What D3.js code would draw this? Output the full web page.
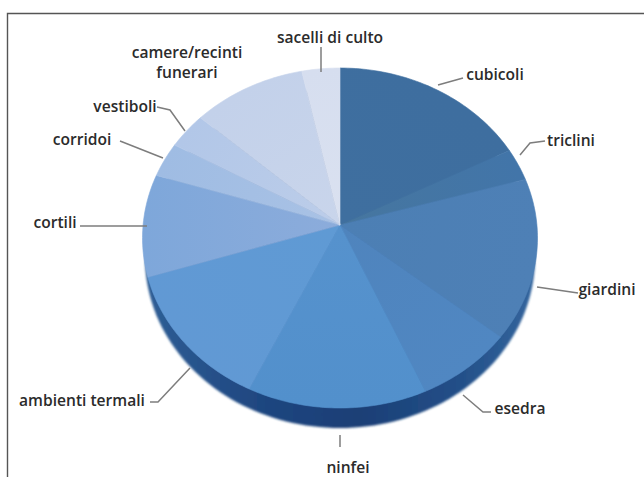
<!DOCTYPE html>
<html>
<head>
<meta charset="utf-8">
<script src="https://cdn.jsdelivr.net/npm/d3@7"></script>
<style>
  html, body { margin: 0; padding: 0; background: #fff; }
  svg { display: block; }
  text { font-family: "Open Sans", sans-serif; font-size: 15.6px; font-weight: 600; fill: #2b2b2b; }
</style>
</head>
<body>
<svg id="chart" width="644" height="477"></svg>
<script>
// Room types of the house and their share, clockwise from twelve o'clock
const rooms = ["cubicoli", "triclini", "giardini", "esedra", "ninfei", "ambienti termali",
               "cortili", "corridoi", "vestiboli", "camere/recinti funerari", "sacelli di culto"];
const shares = [16.4, 3.0, 15.5, 8.0, 14.7, 13.7, 9.7, 3.2, 3.3, 9.4, 3.1];
const innerTones = ["#3f6f9f", "#46769f", "#4c7fb4", "#4f84bd", "#5692cd", "#5f9ad4",
                    "#8cacdb", "#a9c2e5", "#bccde9", "#c9d5eb", "#dae1f0"];
const rimTones = ["#3e6e9f", "#4275a9", "#4e80b6", "#5087c2", "#5290cc", "#6199d4",
                  "#7ea7da", "#9fbce3", "#b2c7e8", "#c3d1ea", "#d6deef"];

const svg = d3.select("#chart");

// Page frame: only the top and left rules are drawn
svg.append("path").attr("d", "M7.5 477V13.5H644").attr("fill", "none").attr("stroke", "#555").attr("stroke-width", 1.4);

// The disc is tilted, so the apex sits above the centre of the rim ellipse
const centre = { x: 340, y: 238 };
const apex = { x: 340, y: 225 };
const radii = { x: 197.5, y: 170 };
const wallDepth = 20;

const rimPoint = (t, dy = 0, inset = 0) => [
  centre.x + (radii.x - inset) * Math.sin(t),
  centre.y + dy - radii.y * Math.cos(t)
];
const line = d3.line();

const slices = d3.pie().sort(null).value(d => d)(shares);
const innerColor = d3.scaleOrdinal(rooms, innerTones);
const rimColor = d3.scaleOrdinal(rooms, rimTones);

const defs = svg.append("defs");

// Side wall, dark in the middle and lighter towards both ends
const wallGrad = defs.append("linearGradient").attr("id", "wall")
  .attr("gradientUnits", "userSpaceOnUse")
  .attr("x1", centre.x - radii.x).attr("x2", centre.x + radii.x).attr("y1", 0).attr("y2", 0);
[[0, "#2f5f96"], [0.3, "#1f4680"], [0.55, "#1b3f76"], [0.8, "#234f88"], [1, "#34669e"]]
  .forEach(([o, c]) => wallGrad.append("stop").attr("offset", o).attr("stop-color", c));

const edgeBlur = defs.append("filter").attr("id", "soft").attr("x", "-5%").attr("y", "-5%").attr("width", "110%").attr("height", "110%");
edgeBlur.append("feGaussianBlur").attr("stdDeviation", 1);

const fullRim = d3.range(0, 361, 2).map(a => rimPoint(a * Math.PI / 180, wallDepth, 2.5));
svg.append("path").attr("d", line(fullRim) + "Z").attr("fill", "url(#wall)").attr("filter", "url(#soft)");

// One wedge per room, running from the apex out to the rim
const wedgePoints = d => {
  const n = Math.max(4, Math.ceil((d.endAngle - d.startAngle) / 0.02));
  const arc = d3.range(n + 1).map(i => rimPoint(d.startAngle + (d.endAngle - d.startAngle) * i / n));
  return [[apex.x, apex.y], ...arc];
};

slices.forEach((d, i) => {
  const mid = (d.startAngle + d.endAngle) / 2;
  const [ex, ey] = rimPoint(mid);
  const g = defs.append("linearGradient").attr("id", "wedge" + i)
    .attr("gradientUnits", "userSpaceOnUse")
    .attr("x1", apex.x).attr("y1", apex.y).attr("x2", ex).attr("y2", ey);
  g.append("stop").attr("offset", 0).attr("stop-color", innerColor(rooms[i]));
  g.append("stop").attr("offset", 1).attr("stop-color", rimColor(rooms[i]));
});

svg.append("g").selectAll("path").data(slices).join("path")
  .attr("d", d => line(wedgePoints(d)) + "Z")
  .attr("fill", (d, i) => `url(#wedge${i})`)
  .attr("stroke", (d, i) => `url(#wedge${i})`)
  .attr("stroke-width", 0.6);

// Label text and leader routing, kept apart from the values
const placements = [
  { lines: ["cubicoli"], x: 495, y: 74, leader: [[438, 85], [463, 78]] },
  { lines: ["triclini"], x: 571, y: 140, leader: [[520, 155], [530, 143], [545, 141]] },
  { lines: ["giardini"], x: 607, y: 289, leader: [[537, 287], [578, 293]] },
  { lines: ["esedra"], x: 520, y: 408, leader: [[463, 395], [483, 412], [491, 412]] },
  { lines: ["ninfei"], x: 348, y: 467, leader: [[340, 435], [340, 447]] },
  { lines: ["ambienti termali"], x: 82, y: 400, leader: [[150, 402], [158, 402], [190, 368]] },
  { lines: ["cortili"], x: 55, y: 222, leader: [[80, 226], [147, 226]] },
  { lines: ["corridoi"], x: 82, y: 139, leader: [[120, 141], [163, 158]] },
  { lines: ["vestiboli"], x: 125, y: 106, leader: [[157, 107], [170, 110], [185, 131]] },
  { lines: ["camere/recinti", "funerari"], x: 187, y: 52, leader: null },
  { lines: ["sacelli di culto"], x: 330, y: 37, leader: [[321, 47], [321, 72]] }
];

const labels = svg.append("g");
labels.selectAll("path").data(placements.filter(p => p.leader)).join("path")
  .attr("d", p => line(p.leader))
  .attr("fill", "none").attr("stroke", "#7d7d7d").attr("stroke-width", 1.5);

labels.selectAll("text").data(placements).join("text")
  .attr("text-anchor", "middle")
  .attr("dominant-baseline", "central")
  .attr("x", p => p.x).attr("y", p => p.y)
  .each(function (p) {
    const t = d3.select(this);
    p.lines.forEach((s, i) => t.append("tspan").attr("x", p.x).attr("dy", i ? 20 : 0).text(s));
  });
</script>
</body>
</html>
